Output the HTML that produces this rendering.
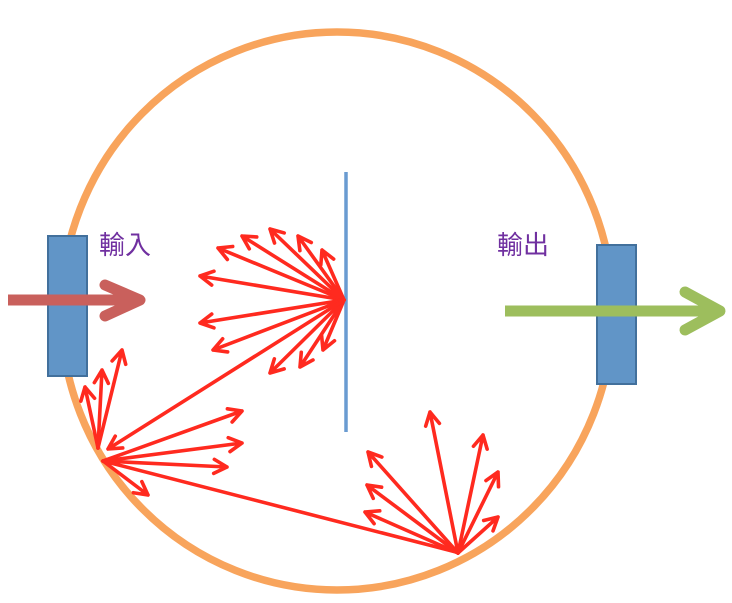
<!DOCTYPE html>
<html><head><meta charset="utf-8"><style>body{margin:0;background:#fff}svg{display:block}</style></head><body>
<svg width="732" height="603" viewBox="0 0 732 603" xmlns="http://www.w3.org/2000/svg">
<ellipse cx="337" cy="311" rx="276" ry="279" fill="none" stroke="#F8A45C" stroke-width="7.5"/>
<line x1="346" y1="172" x2="346" y2="432" stroke="#6A9BD1" stroke-width="3.5"/>
<rect x="48" y="236" width="39" height="140" fill="#6195C7" stroke="#42709C" stroke-width="2"/>
<rect x="597" y="245" width="39" height="139" fill="#6195C7" stroke="#42709C" stroke-width="2"/>
<g stroke="#C9605C" stroke-width="11" fill="none" stroke-linecap="round" stroke-linejoin="round">
<line x1="8" y1="300" x2="138" y2="300" stroke-linecap="butt"/>
<polyline points="105,285 140,300 105,316"/>
</g>
<g stroke="#9DBE5D" stroke-width="11" fill="none" stroke-linecap="round" stroke-linejoin="round">
<line x1="505" y1="311" x2="718" y2="311" stroke-linecap="butt"/>
<polyline points="685,292 720,311 685,330"/>
</g>
<text x="99" y="254" font-family="'Liberation Sans','Noto Sans CJK TC',sans-serif" font-size="26" fill="#7030A0">輸入</text>
<text x="497" y="254" font-family="'Liberation Sans','Noto Sans CJK TC',sans-serif" font-size="26" fill="#7030A0">輸出</text>
<g id="arrows" stroke="#FF2A1F" stroke-width="3.6" fill="none" stroke-linecap="round" stroke-linejoin="round"></g>
</svg>
<script>
var g=document.getElementById('arrows');
function P(d){var e=document.createElementNS('http://www.w3.org/2000/svg','path');e.setAttribute('d',d);g.appendChild(e);}
function A(x1,y1,x2,y2){
 var dx=x2-x1,dy=y2-y1,l=Math.hypot(dx,dy),ux=dx/l,uy=dy/l,s=13,w=7;
 P('M'+x1+' '+y1+'L'+x2+' '+y2+'M'+(x2-ux*s-uy*w)+' '+(y2-uy*s+ux*w)+'L'+x2+' '+y2+'L'+(x2-ux*s+uy*w)+' '+(y2-uy*s-ux*w));
}
var m=[344,300];
[[200,276],[218,248],[242,236],[270,229],[298,236],[322,250],[200,323],[213,350],[270,373],[300,367],[323,350]].forEach(function(t){A(m[0],m[1],t[0],t[1]);});
A(344,300,108,449);
[[85,387],[102,370],[122,350]].forEach(function(t){A(98,448,t[0],t[1]);});
[[242,411],[242,443],[227,467],[148,495]].forEach(function(t){A(103,461,t[0],t[1]);});
P('M103 461L456 552');
[[368,452],[367,485],[365,512],[430,412],[483,435],[498,472],[498,517]].forEach(function(t){A(458,553,t[0],t[1]);});
</script>
</body></html>
